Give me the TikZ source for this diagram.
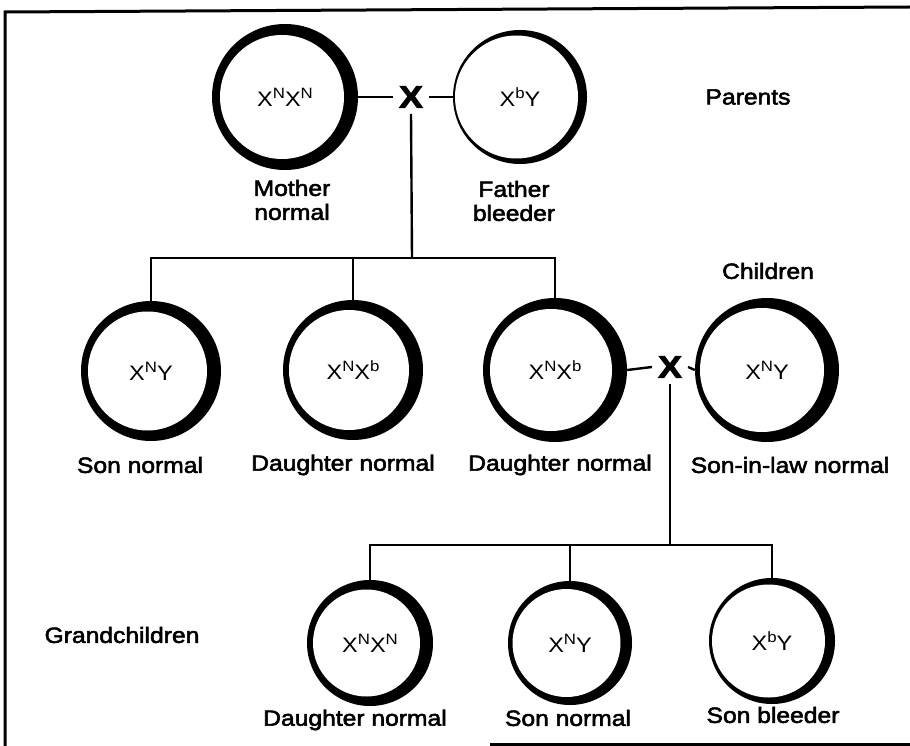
\documentclass[tikz,border=0pt]{standalone}
\usepackage{fontspec}
\setmainfont{Liberation Sans}[FakeStretch=1.12]
\newfontfamily\labfont{Liberation Sans}[FakeStretch=1.12,FakeBold=2.5]
\newfontfamily\crossfont{Liberation Sans Bold}[FakeStretch=1.15,FakeBold=3]
\newcommand\gsup[1]{\raisebox{0.38em}{\fontsize{15}{15}\selectfont #1}}
\begin{document}
\begin{tikzpicture}[x=1pt,y=-1pt,
  cell/.style n args={3}{circle, fill=black, inner sep=0pt, minimum size=#1,
    font=\fontsize{21}{23}\selectfont,
    path picture={\fill[white] ([xshift=-#3]path picture bounding box.center) circle[radius=#2];}},
  lab/.style={font=\labfont\fontsize{22}{24}\selectfont, align=center, inner sep=1pt},
  cross/.style={font=\crossfont\fontsize{31}{31}\selectfont, inner sep=6pt},
  link/.style={line width=2.4pt}]
\useasboundingbox (0,0) rectangle (910,746);
% frame
\draw[line width=3pt] (5,746) -- (5,12) -- (910,7);
\draw[line width=3pt] (490,744) -- (910,744);
% parents
\node[cell={146pt}{62pt}{3pt}] (mother) at (285,97) {X\gsup{N}X\gsup{N}};
\node[cell={134pt}{61.5pt}{3.5pt}] (father) at (520,97) {X\gsup{b}Y};
\node[cross] (x1) at (411,97) {X};
\draw[link] (mother.east) -- (x1.west);
\draw[link] (x1.east) -- (father.west);
\node[lab] (lmother) at (292,200) {Mother\\normal};
\node[lab] (lfather) at (514,201) {Father\\bleeder};
\node[lab] (lparents) at (748,97) {Parents};
% children
\node[cell={140pt}{59.5pt}{3.5pt}] (son) at (151,371) {X\gsup{N}Y};
\node[cell={140pt}{60pt}{4pt}] (dtwo) at (353,370) {X\gsup{N}X\gsup{b}};
\node[cell={144pt}{61pt}{4pt}] (dthree) at (555,370) {X\gsup{N}X\gsup{b}};
\node[cell={144pt}{62pt}{5pt}] (sil) at (767,370) {X\gsup{N}Y};
\node[cross] (x2) at (670,367) {X};
\draw[link] (dthree.east) -- (x2.west);
\draw[link] (x2.east) -- (sil.west);
\coordinate (barone) at (412,258);
\draw[link] (x1.south) -- (barone);
\draw[link] (son.north) -- (son.north |- barone) -- (dthree.north |- barone) -- (dthree.north);
\draw[link] (dtwo.north) -- (dtwo.north |- barone);
\node[lab] (lchildren) at (768,271) {Children};
\node[lab] (lson) at (140,465) {Son normal};
\node[lab] (ldtwo) at (343,465) {Daughter normal};
\node[lab] (ldthree) at (560,465) {Daughter normal};
\node[lab] (lsil) at (790,465) {Son-in-law normal};
% grandchildren
\node[cell={126pt}{53.5pt}{3.5pt}] (gone) at (370,643) {X\gsup{N}X\gsup{N}};
\node[cell={124pt}{54pt}{3.5pt}] (gtwo) at (570,643) {X\gsup{N}Y};
\node[cell={126pt}{56.5pt}{3.5pt}] (gthree) at (772,641) {X\gsup{b}Y};
\coordinate (bartwo) at (670,545);
\draw[link] (x2.south) -- (bartwo);
\draw[link] (gone.north) -- (gone.north |- bartwo) -- (gthree.north |- bartwo) -- (gthree.north);
\draw[link] (gtwo.north) -- (gtwo.north |- bartwo);
\node[lab] (lgrand) at (122,635) {Grandchildren};
\node[lab] (lgone) at (355,720) {Daughter normal};
\node[lab] (lgtwo) at (568,718) {Son normal};
\node[lab] (lgthree) at (773,715) {Son bleeder};
\end{tikzpicture}
\end{document}
